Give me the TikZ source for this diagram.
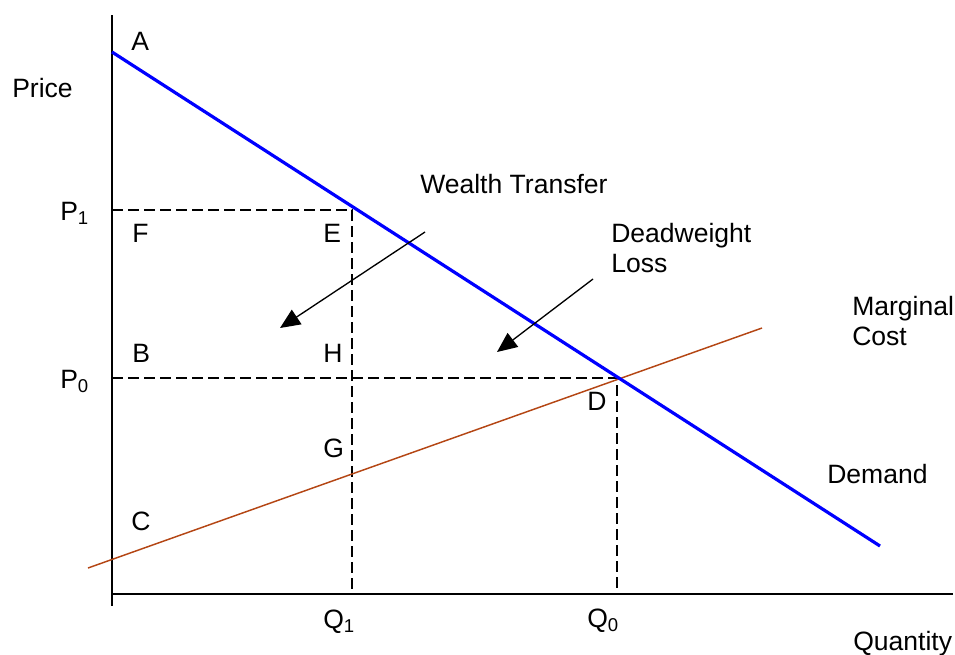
\documentclass[tikz,border=0pt]{standalone}
\usepackage{fontspec}
\setmainfont{Liberation Sans}
\usetikzlibrary{arrows.meta}
\definecolor{mcbrown}{RGB}{180,70,20}
\begin{document}
\begin{tikzpicture}[x=0.75pt,y=-0.75pt,
  lbl/.style={font=\fontsize{19.9}{23}\selectfont, inner sep=0pt, anchor=base west},
  axisline/.style={line width=1.2pt, black},
  guide/.style={line width=1pt, black, dash pattern=on 8pt off 4pt},
  demandline/.style={line width=2.4pt, blue},
  mcline/.style={line width=1.1pt, mcbrown},
  pointer/.style={line width=1pt, black, -{Triangle[length=15pt,width=13pt]}}]
\useasboundingbox (0,0) rectangle (955,654);
% axes
\coordinate (ytop) at (112,15);
\coordinate (ybot) at (112,606);
\coordinate (xl) at (112,594);
\coordinate (xr) at (953,594);
\draw[axisline] (ytop) -- (ybot);
\draw[axisline] (xl) -- (xr);
% key points
\coordinate (dA) at (112,52);
\coordinate (dEnd) at (880,546);
\coordinate (p1a) at (112,210);
\coordinate (eP) at (352,210);
\coordinate (q1b) at (352,594);
\coordinate (p0a) at (112,378);
\coordinate (dP) at (617,378);
\coordinate (q0b) at (617,594);
\coordinate (mcS) at (88,568);
\coordinate (mcE) at (762,328);
% guides
\draw[guide] (p1a) -- (eP) -- (q1b);
\draw[guide] (p0a) -- (dP) -- (q0b);
% curves
\draw[mcline] (mcS) -- (mcE);
\draw[demandline] (dA) -- (dEnd);
% arrows
\coordinate (wtS) at (425,232);
\coordinate (wtT) at (280,328);
\coordinate (dwS) at (593,279);
\coordinate (dwT) at (497,352);
\draw[pointer] (wtS) -- (wtT);
\draw[pointer] (dwS) -- (dwT);
% labels
\node[lbl] (lA) at (131,50) {A};
\node[lbl] (lPrice) at (12,97) {Price};
\node[lbl] (lP1) at (60,220) {P\textsubscript{1}};
\node[lbl] (lF) at (132,242) {F};
\node[lbl] (lE) at (323,242) {E};
\node[lbl] (lB) at (132,362) {B};
\node[lbl] (lH) at (323,362) {H};
\node[lbl] (lP0) at (60,388) {P\textsubscript{0}};
\node[lbl] (lG) at (323,457) {G};
\node[lbl] (lC) at (131,530) {C};
\node[lbl] (lD) at (587,410) {D};
\node[lbl] (lWT) at (420,193) {Wealth Transfer};
\node[lbl] (lDW1) at (611,242) {Deadweight};
\node[lbl] (lDW2) at (611,272) {Loss};
\node[lbl] (lMC1) at (852,315) {Marginal};
\node[lbl] (lMC2) at (852,345) {Cost};
\node[lbl] (lDem) at (827,483) {Demand};
\node[lbl] (lQ1) at (323,628) {Q\textsubscript{1}};
\node[lbl] (lQ0) at (587,627) {Q\textsubscript{0}};
\node[lbl] (lQty) at (853,650) {Quantity};
\end{tikzpicture}
\end{document}
